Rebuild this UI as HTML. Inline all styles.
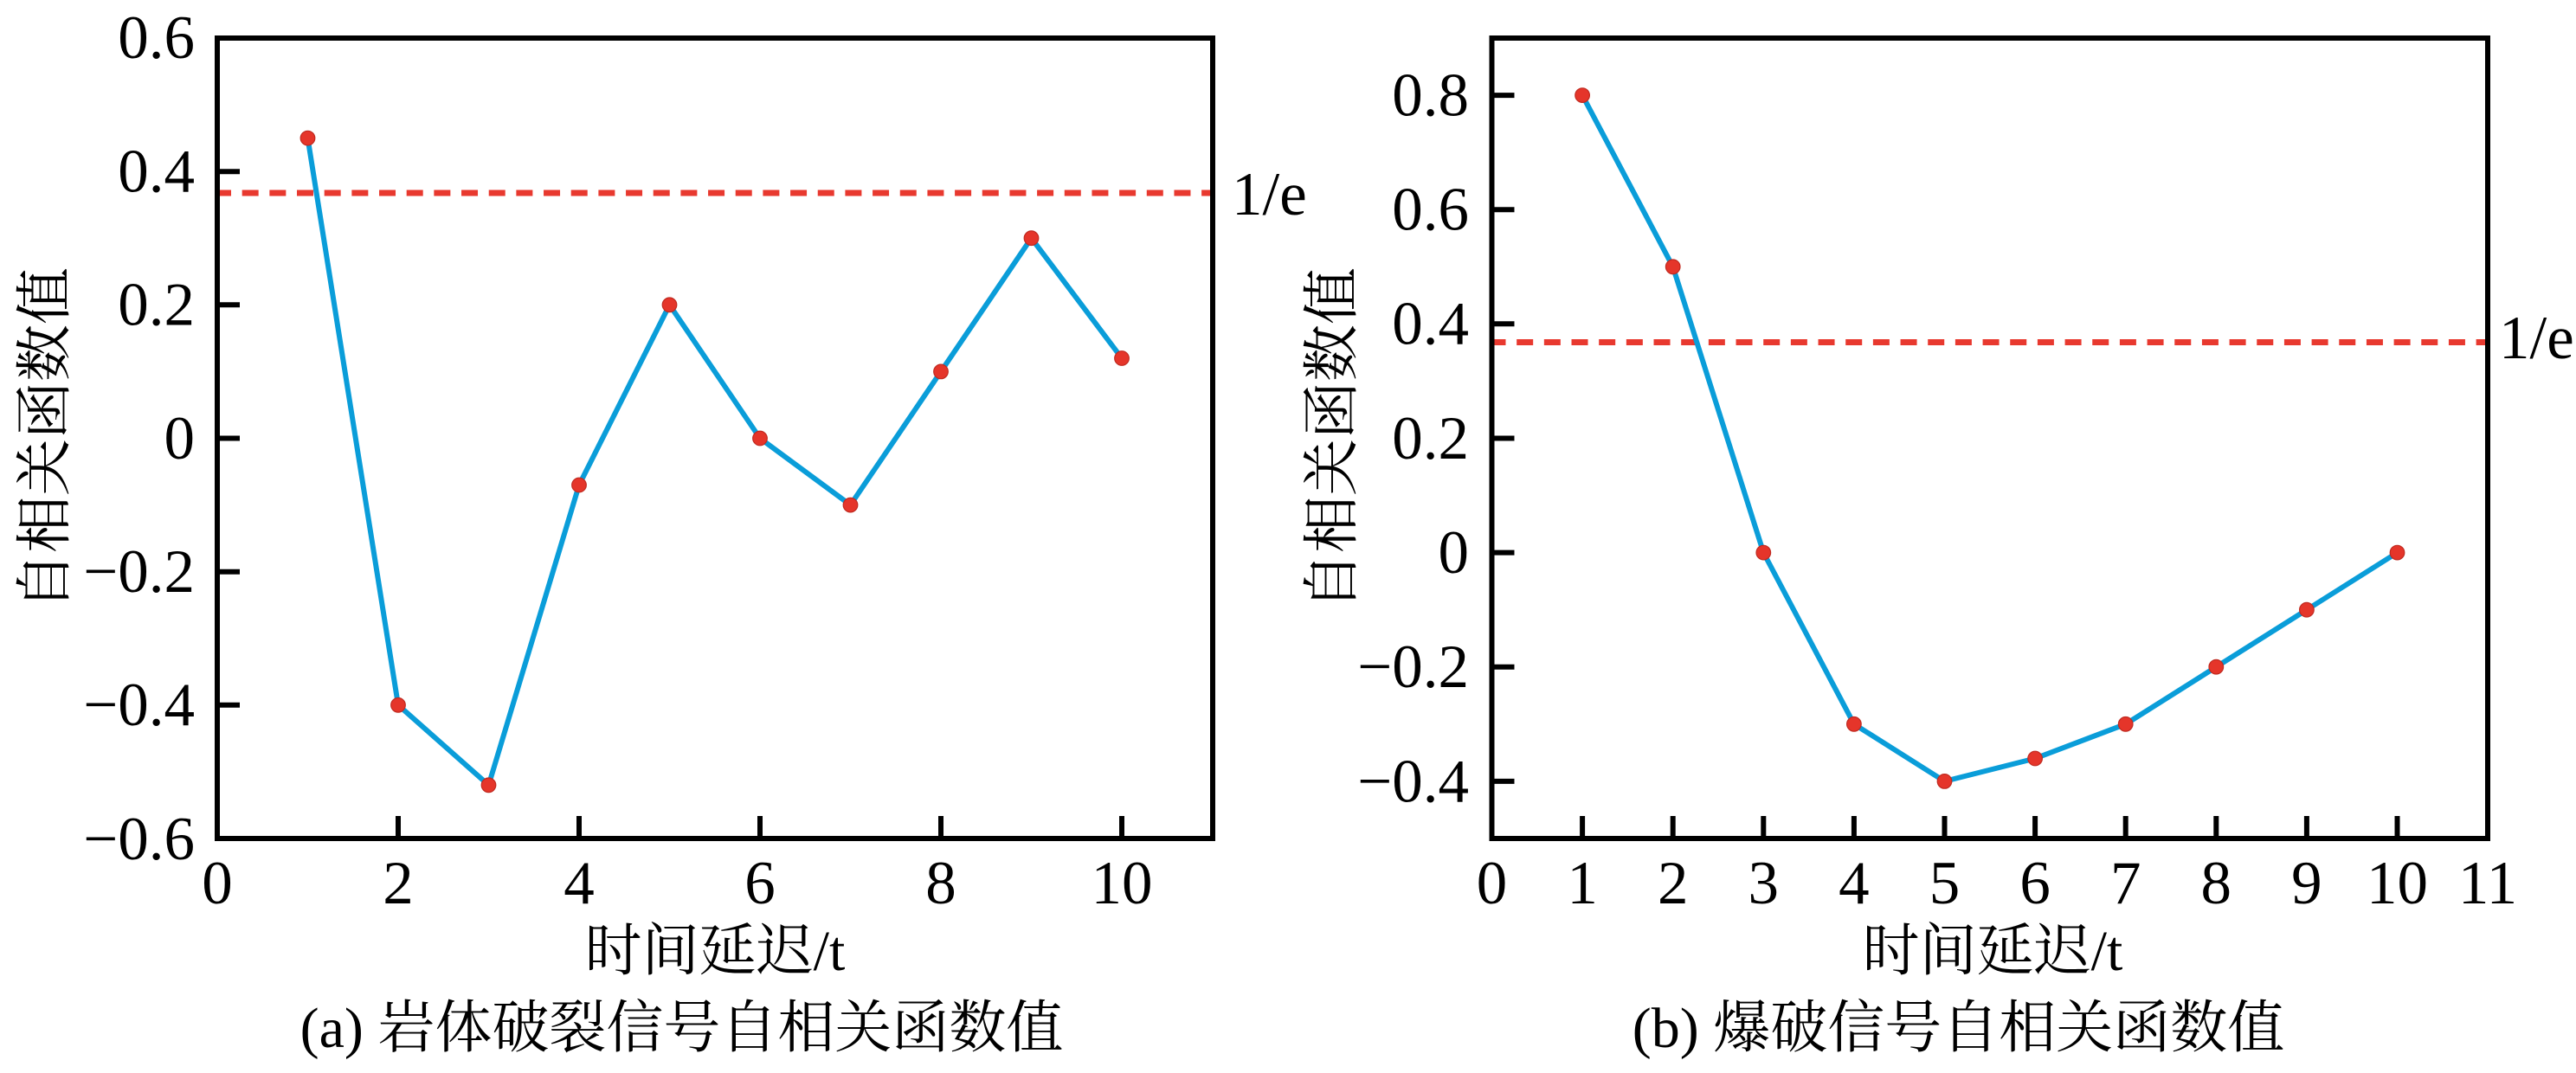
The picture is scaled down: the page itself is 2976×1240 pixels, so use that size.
<!DOCTYPE html>
<html>
<head>
<meta charset="utf-8">
<style>
html,body{margin:0;padding:0;background:#fff;}
svg{display:block;}
.t{font-family:"Liberation Serif","Noto Serif CJK SC",serif;font-size:71px;fill:#000;}
.c{font-family:"Liberation Serif","Noto Serif CJK SC",serif;font-size:66px;fill:#000;}
</style>
</head>
<body>
<svg width="2976" height="1240" viewBox="0 0 2976 1240" xmlns="http://www.w3.org/2000/svg">
<rect x="0" y="0" width="2976" height="1240" fill="#fff"/>

<!-- ============ LEFT PANEL ============ -->
<line x1="251" y1="223" x2="1401" y2="223" stroke="#e8392f" stroke-width="7" stroke-dasharray="19 12.67" stroke-dashoffset="3"/>
<polyline fill="none" stroke="#0a9dd9" stroke-width="6" stroke-linejoin="round"
 points="355.5,159.6 460,814.8 564.5,907.3 669,560.5 773.5,352.3 878,506.5 982.5,583.6 1087,429.4 1191.5,275.2 1296,414"/>
<g fill="#e5352a" stroke="#c02a20" stroke-width="1.2">
<circle cx="355.5" cy="159.6" r="8.3"/>
<circle cx="460" cy="814.8" r="8.3"/>
<circle cx="564.5" cy="907.3" r="8.3"/>
<circle cx="669" cy="560.5" r="8.3"/>
<circle cx="773.5" cy="352.3" r="8.3"/>
<circle cx="878" cy="506.5" r="8.3"/>
<circle cx="982.5" cy="583.6" r="8.3"/>
<circle cx="1087" cy="429.4" r="8.3"/>
<circle cx="1191.5" cy="275.2" r="8.3"/>
<circle cx="1296" cy="414" r="8.3"/>
</g>
<rect x="251" y="44" width="1150" height="925" fill="none" stroke="#000" stroke-width="6"/>
<g stroke="#000" stroke-width="6">
<line x1="251" y1="198.2" x2="277" y2="198.2"/>
<line x1="251" y1="352.3" x2="277" y2="352.3"/>
<line x1="251" y1="506.5" x2="277" y2="506.5"/>
<line x1="251" y1="660.7" x2="277" y2="660.7"/>
<line x1="251" y1="814.8" x2="277" y2="814.8"/>
<line x1="460" y1="969" x2="460" y2="943"/>
<line x1="669" y1="969" x2="669" y2="943"/>
<line x1="878" y1="969" x2="878" y2="943"/>
<line x1="1087" y1="969" x2="1087" y2="943"/>
<line x1="1296" y1="969" x2="1296" y2="943"/>
</g>
<g class="t" text-anchor="end">
<text x="225" y="67">0.6</text>
<text x="225" y="221.5">0.4</text>
<text x="225" y="375.5">0.2</text>
<text x="225" y="530">0</text>
<text x="225" y="684">−0.2</text>
<text x="225" y="838">−0.4</text>
<text x="225" y="993">−0.6</text>
</g>
<g class="t" text-anchor="middle">
<text x="251" y="1044">0</text>
<text x="460" y="1044">2</text>
<text x="669" y="1044">4</text>
<text x="878" y="1044">6</text>
<text x="1087" y="1044">8</text>
<text x="1296" y="1044">10</text>
</g>
<text class="t" x="1423" y="248">1/e</text>
<text class="c" x="826" y="1121" text-anchor="middle">时间延迟/t</text>
<text class="c" transform="translate(74,507) rotate(-90)" text-anchor="middle">自相关函数值</text>
<text class="c" x="787.5" y="1210" text-anchor="middle">(a) 岩体破裂信号自相关函数值</text>

<!-- ============ RIGHT PANEL ============ -->
<line x1="1723.5" y1="395.5" x2="2874" y2="395.5" stroke="#e8392f" stroke-width="7" stroke-dasharray="19 12.67" stroke-dashoffset="3"/>
<polyline fill="none" stroke="#0a9dd9" stroke-width="6" stroke-linejoin="round"
 points="1828.1,110.1 1932.7,308.3 2037.3,638.6 2141.9,836.8 2246.5,902.9 2351.1,876.5 2455.7,836.8 2560.3,770.7 2664.9,704.7 2769.5,638.6"/>
<g fill="#e5352a" stroke="#c02a20" stroke-width="1.2">
<circle cx="1828.1" cy="110.1" r="8.3"/>
<circle cx="1932.7" cy="308.3" r="8.3"/>
<circle cx="2037.3" cy="638.6" r="8.3"/>
<circle cx="2141.9" cy="836.8" r="8.3"/>
<circle cx="2246.5" cy="902.9" r="8.3"/>
<circle cx="2351.1" cy="876.5" r="8.3"/>
<circle cx="2455.7" cy="836.8" r="8.3"/>
<circle cx="2560.3" cy="770.7" r="8.3"/>
<circle cx="2664.9" cy="704.7" r="8.3"/>
<circle cx="2769.5" cy="638.6" r="8.3"/>
</g>
<rect x="1723.5" y="44" width="1150.5" height="925" fill="none" stroke="#000" stroke-width="6"/>
<g stroke="#000" stroke-width="6">
<line x1="1723.5" y1="110.1" x2="1749.5" y2="110.1"/>
<line x1="1723.5" y1="242.2" x2="1749.5" y2="242.2"/>
<line x1="1723.5" y1="374.3" x2="1749.5" y2="374.3"/>
<line x1="1723.5" y1="506.5" x2="1749.5" y2="506.5"/>
<line x1="1723.5" y1="638.6" x2="1749.5" y2="638.6"/>
<line x1="1723.5" y1="770.7" x2="1749.5" y2="770.7"/>
<line x1="1723.5" y1="902.9" x2="1749.5" y2="902.9"/>
<line x1="1828.1" y1="969" x2="1828.1" y2="943"/>
<line x1="1932.7" y1="969" x2="1932.7" y2="943"/>
<line x1="2037.3" y1="969" x2="2037.3" y2="943"/>
<line x1="2141.9" y1="969" x2="2141.9" y2="943"/>
<line x1="2246.5" y1="969" x2="2246.5" y2="943"/>
<line x1="2351.1" y1="969" x2="2351.1" y2="943"/>
<line x1="2455.7" y1="969" x2="2455.7" y2="943"/>
<line x1="2560.3" y1="969" x2="2560.3" y2="943"/>
<line x1="2664.9" y1="969" x2="2664.9" y2="943"/>
<line x1="2769.5" y1="969" x2="2769.5" y2="943"/>
</g>
<g class="t" text-anchor="end">
<text x="1697" y="133.5">0.8</text>
<text x="1697" y="265.5">0.6</text>
<text x="1697" y="397.5">0.4</text>
<text x="1697" y="530">0.2</text>
<text x="1697" y="662">0</text>
<text x="1697" y="794">−0.2</text>
<text x="1697" y="926.5">−0.4</text>
</g>
<g class="t" text-anchor="middle">
<text x="1723.5" y="1044">0</text>
<text x="1828.1" y="1044">1</text>
<text x="1932.7" y="1044">2</text>
<text x="2037.3" y="1044">3</text>
<text x="2141.9" y="1044">4</text>
<text x="2246.5" y="1044">5</text>
<text x="2351.1" y="1044">6</text>
<text x="2455.7" y="1044">7</text>
<text x="2560.3" y="1044">8</text>
<text x="2664.9" y="1044">9</text>
<text x="2769.5" y="1044">10</text>
<text x="2874" y="1044">11</text>
</g>
<text class="t" x="2887" y="414">1/e</text>
<text class="c" x="2302" y="1121" text-anchor="middle">时间延迟/t</text>
<text class="c" transform="translate(1561,507) rotate(-90)" text-anchor="middle">自相关函数值</text>
<text class="c" x="2262.5" y="1210" text-anchor="middle">(b) 爆破信号自相关函数值</text>
</svg>
</body>
</html>
